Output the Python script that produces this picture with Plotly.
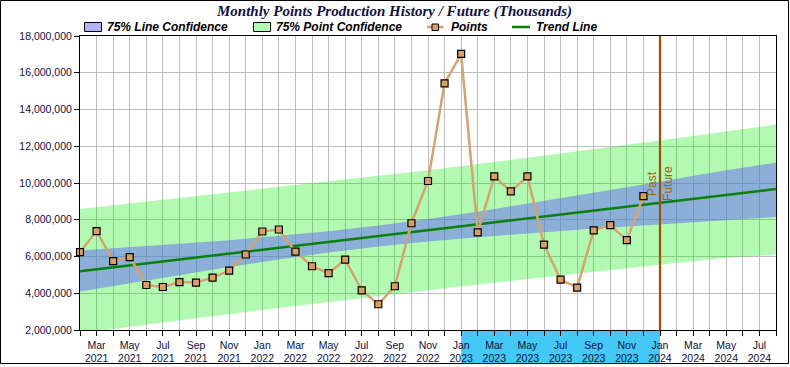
import pandas as pd
import plotly.graph_objects as go

# ---------------- data ----------------
months = pd.date_range("2021-02-01", "2024-08-01", freq="MS").strftime("%b %Y").tolist()
month_idx = {m: i for i, m in enumerate(months)}

point_months = months[:35]
point_values = [
    6240000, 7380000, 5750000, 5970000, 4450000, 4340000, 4610000, 4580000,
    4850000, 5230000, 6110000, 7360000, 7470000, 6270000, 5470000, 5090000,
    5830000, 4160000, 3400000, 4380000, 7810000, 10110000, 15420000, 17030000,
    7310000, 10360000, 9540000, 10360000, 6650000, 4740000, 4310000, 7420000,
    7710000, 6890000, 9290000,
]

trend_months = ["Feb 2021", "Aug 2024"]
trend_values = [5200000, 9670000]

band_months = ["Feb 2021", "May 2021", "Aug 2021", "Nov 2021", "Feb 2022", "May 2022",
               "Aug 2022", "Nov 2022", "Feb 2023", "May 2023", "Aug 2023", "Nov 2023",
               "Feb 2024", "May 2024", "Aug 2024"]
line_conf_upper = [6330000, 6500000, 6690000, 6890000, 7110000, 7370000, 7690000, 8040000,
                   8440000, 8870000, 9310000, 9770000, 10230000, 10700000, 11100000]
line_conf_lower = [4100000, 4550000, 5000000, 5430000, 5840000, 6220000, 6540000, 6820000,
                   7050000, 7260000, 7450000, 7630000, 7800000, 7970000, 8150000]
point_conf_upper = [8580000, 8880000, 9160000, 9460000, 9760000, 10060000, 10380000, 10700000,
                    11030000, 11370000, 11720000, 12080000, 12440000, 12810000, 13180000]
point_conf_lower = [1820000, 2180000, 2530000, 2870000, 3200000, 3530000, 3850000, 4160000,
                    4470000, 4780000, 5070000, 5360000, 5650000, 5930000, 6100000]

x_tick_months = months[1::2]
x_tick_labels = ["Mar<br>2021", "May<br>2021", "Jul<br>2021", "Sep<br>2021", "Nov<br>2021",
                 "Jan<br>2022", "Mar<br>2022", "May<br>2022", "Jul<br>2022", "Sep<br>2022",
                 "Nov<br>2022", "Jan<br>2023", "Mar<br>2023", "May<br>2023", "Jul<br>2023",
                 "Sep<br>2023", "Nov<br>2023", "Jan<br>2024", "Mar<br>2024", "May<br>2024",
                 "Jul<br>2024"]

divider_month = "Jan 2024"
highlight_start, highlight_end = "Jan 2023", "Jan 2024"

title_text = "Monthly Points Production History / Future (Thousands)"
legend_labels = ["75% Line Confidence", "75% Point Confidence", "Points", "Trend Line"]

# ---------------- styles ----------------
W, H = 790, 367
ML, MR, MT, MB = 80, 14, 36, 37
PW, PH = W - ML - MR, H - MT - MB

GREEN_FILL = "rgba(0,240,0,0.30)"
BLUE_FILL = "rgba(100,100,250,0.50)"
POINT_LINE = "#D4A373"
POINT_FILL = "#D9A066"
TREND = "#0A800A"
DIVIDER = "#9A5208"
NAVY = "#101040"
GRID = "#BEBEBE"
SANS = "Liberation Sans, Arial, sans-serif"
SERIF = "Liberation Serif, Times New Roman, serif"


def px_x(px):
    return (px - ML) / PW


def px_y(py):
    return (H - MB - py) / PH


def ix(labels):
    return [month_idx[m] for m in labels]


fig = go.Figure()

# point confidence band
fig.add_trace(go.Scatter(x=ix(band_months), y=point_conf_lower, mode="lines",
                         line=dict(width=0), hoverinfo="skip", showlegend=False))
fig.add_trace(go.Scatter(x=ix(band_months), y=point_conf_upper, mode="lines",
                         line=dict(width=0), fill="tonexty", fillcolor=GREEN_FILL,
                         name=legend_labels[1], showlegend=False))
# line confidence band
fig.add_trace(go.Scatter(x=ix(band_months), y=line_conf_lower, mode="lines",
                         line=dict(width=0), hoverinfo="skip", showlegend=False))
fig.add_trace(go.Scatter(x=ix(band_months), y=line_conf_upper, mode="lines",
                         line=dict(width=0), fill="tonexty", fillcolor=BLUE_FILL,
                         name=legend_labels[0], showlegend=False))
# trend
fig.add_trace(go.Scatter(x=ix(trend_months), y=trend_values, mode="lines",
                         line=dict(color=TREND, width=2.5), name=legend_labels[3],
                         showlegend=False))
# points
fig.add_trace(go.Scatter(x=ix(point_months), y=point_values, mode="lines+markers",
                         line=dict(color=POINT_LINE, width=2.5),
                         marker=dict(symbol="square", size=7, color=POINT_FILL,
                                     line=dict(color="black", width=1.2)),
                         name=legend_labels[2], showlegend=False, cliponaxis=False))

shapes = []
# highlighted tick-label region
shapes.append(dict(type="rect", xref="x", yref="paper",
                   x0=month_idx[highlight_start], x1=month_idx[highlight_end],
                   y0=px_y(363.5), y1=px_y(331), fillcolor="#44C8F5", line=dict(width=0),
                   layer="below"))
# divider
shapes.append(dict(type="line", xref="x", yref="paper",
                   x0=month_idx[divider_month], x1=month_idx[divider_month], y0=0, y1=1,
                   line=dict(color=DIVIDER, width=2.2)))
# outer frame
shapes.append(dict(type="rect", xref="paper", yref="paper",
                   x0=px_x(0.5), x1=px_x(788.5), y0=px_y(363.5), y1=px_y(0.5),
                   line=dict(color="black", width=1), fillcolor="rgba(0,0,0,0)"))

# manual legend
ly_top, ly_bot = 22.5, 31.5
shapes.append(dict(type="rect", xref="paper", yref="paper",
                   x0=px_x(84.5), x1=px_x(101.5), y0=px_y(ly_bot), y1=px_y(ly_top),
                   fillcolor="#B1B1FC", line=dict(color="black", width=1)))
shapes.append(dict(type="rect", xref="paper", yref="paper",
                   x0=px_x(253.5), x1=px_x(270.5), y0=px_y(ly_bot), y1=px_y(ly_top),
                   fillcolor="#B3FAB3", line=dict(color="black", width=1)))
shapes.append(dict(type="line", xref="paper", yref="paper",
                   x0=px_x(427), x1=px_x(443.5), y0=px_y(27), y1=px_y(27),
                   line=dict(color=POINT_LINE, width=2.5)))
shapes.append(dict(type="rect", xref="paper", yref="paper",
                   x0=px_x(432), x1=px_x(438.5), y0=px_y(30.5), y1=px_y(24),
                   fillcolor=POINT_FILL, line=dict(color="black", width=1)))
shapes.append(dict(type="line", xref="paper", yref="paper",
                   x0=px_x(512), x1=px_x(530), y0=px_y(27), y1=px_y(27),
                   line=dict(color=TREND, width=2.5)))

annotations = []
for label, xpx in zip(legend_labels, [105, 274, 448.5, 533.5]):
    annotations.append(dict(text=f"<b><i>{label}</i></b>", xref="paper", yref="paper",
                            x=px_x(xpx), y=px_y(27), xanchor="left", yanchor="middle",
                            showarrow=False, font=dict(family=SANS, size=12, color="black")))
annotations.append(dict(text=f"<b><i>{title_text}</i></b>", xref="paper", yref="paper",
                        x=px_x(394), y=px_y(11), xanchor="center", yanchor="middle",
                        showarrow=False, font=dict(family=SERIF, size=15, color=NAVY)))
annotations.append(dict(text="Past", xref="x", yref="y", x=month_idx[divider_month],
                        y=9950000, textangle=-90, xshift=-8, showarrow=False,
                        font=dict(family=SANS, size=12, color="#A0601A")))
annotations.append(dict(text="Future", xref="x", yref="y", x=month_idx[divider_month],
                        y=9950000, textangle=-90, xshift=8, showarrow=False,
                        font=dict(family=SANS, size=12, color="#A0601A")))

fig.update_layout(
    width=W, height=H,
    margin=dict(l=ML, r=MR, t=MT, b=MB, pad=0, autoexpand=False),
    paper_bgcolor="white", plot_bgcolor="white",
    showlegend=False,
    shapes=shapes, annotations=annotations,
    xaxis=dict(range=[0, len(months) - 1], tickmode="array", automargin=False,
               tickvals=ix(x_tick_months), ticktext=x_tick_labels,
               ticks="outside", ticklen=5, tickcolor="black", tickwidth=1,
               showgrid=True, gridcolor=GRID, gridwidth=1,
               minor=dict(tickmode="linear", tick0=0, dtick=1, ticks="outside", ticklen=5,
                          tickcolor="black", showgrid=True, gridcolor=GRID, gridwidth=1),
               showline=True, linecolor="black", linewidth=1, mirror=True,
               zeroline=False, tickfont=dict(family=SANS, size=10.5, color=NAVY)),
    yaxis=dict(range=[2000000, 18000000], dtick=2000000, tickformat=",", automargin=False,
               ticks="outside", ticklen=5, tickcolor="black",
               showgrid=True, gridcolor=GRID, gridwidth=1,
               showline=True, linecolor="black", linewidth=1, mirror=True,
               zeroline=False, tickfont=dict(family=SANS, size=10.5, color=NAVY)),
)

fig.write_html("out.html", config={"displayModeBar": False},
               post_script="document.body.style.margin='0';document.body.style.padding='0';")
